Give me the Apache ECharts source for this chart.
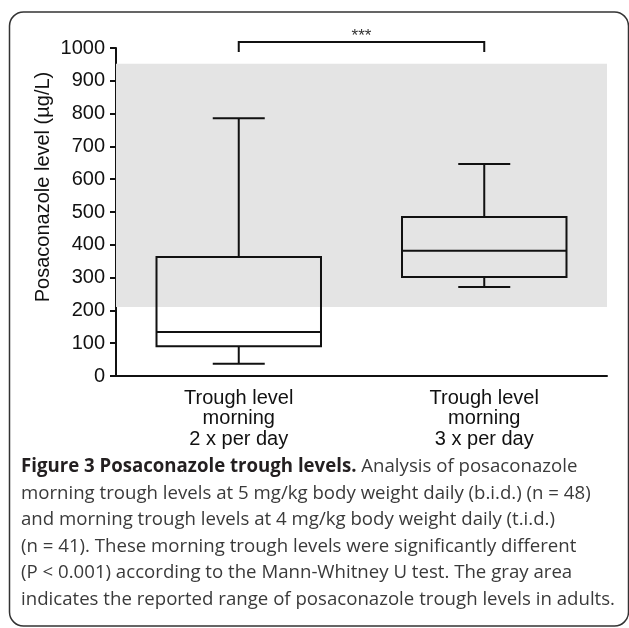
<!DOCTYPE html>
<html>
<head>
<meta charset="utf-8">
<script src="https://cdn.jsdelivr.net/npm/echarts@6/dist/echarts.min.js"></script>
<style>
html, body { margin: 0; padding: 0; background: #fff; }
#main { width: 629px; height: 628px; }
</style>
</head>
<body>
<div id="main"></div>
<script>
// x 轴分组
const categories = ['Trough level\nmorning\n2 x per day', 'Trough level\nmorning\n3 x per day'];
// 每组: [下须, Q1, 中位数, Q3, 上须]
const boxStats = [
  [37, 91, 134, 363, 786],
  [271, 302, 382, 485, 646]
];
// 成人参考范围 (灰色区域)
const adultRange = [210, 952];
// y 轴刻度
const yMin = 0, yMax = 1000, yStep = 100;
// 显著性标记
const sigPair = [0, 1];
const sigLabel = '***';
const yName = 'Posaconazole level (\u00b5g/L)';
const captionBold = 'Figure 3 Posaconazole trough levels.';
const captionLines = [
  ' Analysis of posaconazole',
  'morning trough levels at 5 mg/kg body weight daily (b.i.d.) (n = 48)',
  'and morning trough levels at 4 mg/kg body weight daily (t.i.d.)',
  '(n = 41). These morning trough levels were significantly different',
  '(P < 0.001) according to the Mann-Whitney U test. The gray area',
  'indicates the reported range of posaconazole trough levels in adults.'
];

const FONT = '"Liberation Sans", Arial, sans-serif';
const INK = '#111';

// 说明文字横向压缩, 按最后一行宽度算
const ctx = document.createElement('canvas').getContext('2d');
ctx.font = '19px "Open Sans"';
const capScale = 594 / ctx.measureText(captionLines[5]).width;

let myChart = echarts.init(document.getElementById('main'));

function renderBox(params, api) {
  const x = api.value(0);
  const lo = api.coord([x, api.value(1)]);
  const q1 = api.coord([x, api.value(2)]);
  const md = api.coord([x, api.value(3)]);
  const q3 = api.coord([x, api.value(4)]);
  const hi = api.coord([x, api.value(5)]);
  const band = api.size([1, 0])[0];
  const half = band * 0.335;
  const cap = 26;
  const cx = lo[0];
  const ls = { stroke: INK, lineWidth: 2 };
  return {
    type: 'group',
    children: [
      { type: 'line', shape: { x1: cx, y1: hi[1], x2: cx, y2: q3[1] }, style: ls },
      { type: 'line', shape: { x1: cx - cap, y1: hi[1], x2: cx + cap, y2: hi[1] }, style: ls },
      { type: 'line', shape: { x1: cx, y1: q1[1], x2: cx, y2: lo[1] }, style: ls },
      { type: 'line', shape: { x1: cx - cap, y1: lo[1], x2: cx + cap, y2: lo[1] }, style: ls },
      { type: 'rect', shape: { x: cx - half, y: q3[1], width: half * 2, height: q1[1] - q3[1] },
        style: { stroke: INK, lineWidth: 2, fill: 'none' } },
      { type: 'line', shape: { x1: cx - half, y1: md[1], x2: cx + half, y2: md[1] }, style: ls }
    ]
  };
}

function renderBracket(params, api) {
  const a = api.coord([api.value(0), yMax]);
  const b = api.coord([api.value(1), yMax]);
  const y = a[1] - 6;
  return {
    type: 'group',
    children: [
      { type: 'polyline', shape: { points: [[a[0], y + 10], [a[0], y], [b[0], y], [b[0], y + 10]] },
        style: { stroke: INK, lineWidth: 2, fill: 'none' } },
      { type: 'text', x: (a[0] + b[0]) / 2, y: y - 6,
        style: { text: sigLabel, font: '17px ' + FONT, fill: '#333', align: 'center', verticalAlign: 'middle' } }
    ]
  };
}

let captionGraphics = captionLines.map((t, i) => ({
  type: 'text',
  x: 21,
  y: 467 + i * 26.5,
  scaleX: capScale,
  style: i === 0
    ? { text: '{b|' + captionBold + '}{r|' + t + '}',
        rich: {
          b: { fontFamily: 'Open Sans', fontSize: 19, fontWeight: 'bold', fill: '#231f20' },
          r: { fontFamily: 'Open Sans', fontSize: 19, fill: '#3a3a3a' }
        },
        verticalAlign: 'middle' }
    : { text: t, font: '19px "Open Sans"', fill: '#3a3a3a', verticalAlign: 'middle' }
}));

let option = {
  animation: false,
  textStyle: { fontFamily: FONT },
  grid: { left: 116, right: 22, top: 48, bottom: 252 },
  xAxis: {
    type: 'category',
    data: categories,
    axisLine: { lineStyle: { color: INK, width: 2 } },
    axisTick: { alignWithLabel: true, length: 7, lineStyle: { color: INK, width: 2 } },
    axisLabel: { interval: 0, color: INK, fontSize: 20, lineHeight: 20.5, margin: 12 }
  },
  yAxis: {
    type: 'value',
    min: yMin,
    max: yMax,
    interval: yStep,
    splitLine: { show: false },
    axisLine: { show: true, lineStyle: { color: INK, width: 2 } },
    axisTick: { show: true, length: 6, lineStyle: { color: INK, width: 2 } },
    axisLabel: { color: INK, fontSize: 20, margin: 11, formatter: v => String(v) }
  },
  graphic: [
    { type: 'rect', shape: { x: 9.5, y: 12, width: 619, height: 614, r: 14 },
      style: { fill: 'none', stroke: '#333', lineWidth: 1.5 } },
    { type: 'text', x: 43, y: 187, rotation: Math.PI / 2,
      style: { text: yName, font: '20px ' + FONT, fill: INK, align: 'center', verticalAlign: 'middle' } }
  ].concat(captionGraphics),
  series: [
    {
      type: 'line',
      data: [],
      z: 1,
      markArea: {
        silent: true,
        itemStyle: { color: '#e4e4e4' },
        data: [[{ yAxis: adultRange[0] }, { yAxis: adultRange[1] }]]
      }
    },
    {
      type: 'custom',
      z: 3,
      renderItem: renderBox,
      encode: { x: 0, y: [1, 2, 3, 4, 5] },
      data: boxStats.map((s, i) => [i].concat(s))
    },
    {
      type: 'custom',
      z: 3,
      renderItem: renderBracket,
      data: [sigPair]
    }
  ]
};
myChart.setOption(option);
</script>
</body>
</html>
